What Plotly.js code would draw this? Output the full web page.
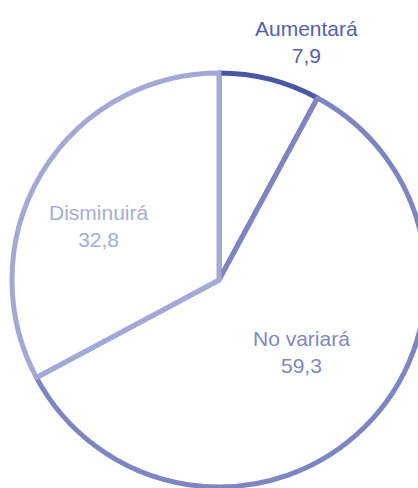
<!DOCTYPE html>
<html>
<head>
<meta charset="utf-8">
<script src="https://cdn.plot.ly/plotly-3.0.1.min.js"></script>
<style>html,body{margin:0;padding:0;overflow:hidden;background:#fff;}</style>
</head>
<body>
<div id="chart"></div>
<script>
const categories = ['Aumentará', 'No variará', 'Disminuirá'];
const values = [7.9, 59.3, 32.8];
const lineColors = ['#4a57a5', '#7e86c2', '#a4a8d4'];
const textColors = ['#5361ae', '#7f87c4', '#a8acd8'];
const valueLabels = values.map(v => v.toFixed(1).replace('.', ','));
// label anchor positions (paper coordinates) — layout only
const labelX = [0.712, 0.699, 0.211];
const labelY = [1.075, 0.326, 0.630];

const trace = {
  type: 'pie',
  labels: categories,
  values: values,
  textinfo: 'none',
  hoverinfo: 'none',
  sort: false,
  direction: 'clockwise',
  rotation: 0,
  automargin: false,
  marker: {colors: ['#ffffff', '#ffffff', '#ffffff'], line: {color: lineColors, width: 5}},
  showlegend: false
};

const annotations = categories.map((c, i) => ({
  xref: 'paper', yref: 'paper',
  x: labelX[i], y: labelY[i],
  xanchor: 'center', yanchor: 'middle',
  text: c + '<br>' + valueLabels[i],
  showarrow: false,
  align: 'center',
  font: {family: 'Liberation Sans, Arial, sans-serif', size: 21, color: textColors[i]}
}));

Plotly.newPlot('chart', [trace], {
  width: 430, height: 500,
  margin: {l: 12, r: 4, t: 73, b: 13},
  paper_bgcolor: '#ffffff',
  showlegend: false,
  annotations: annotations
}, {staticPlot: true, displayModeBar: false});
</script>
</body>
</html>
